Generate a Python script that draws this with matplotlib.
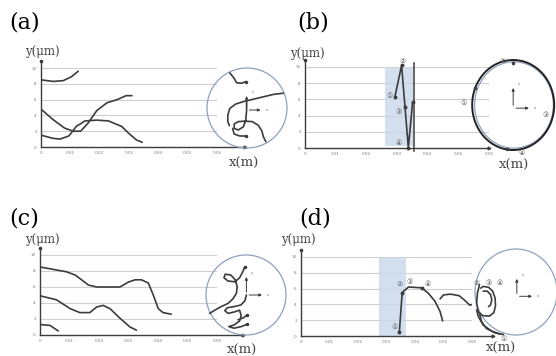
import matplotlib
matplotlib.use("Agg")
import matplotlib.pyplot as plt
from matplotlib.patches import Ellipse

W, H = 556, 356

# ---- data ----
x_ticks = [0, 0.01, 0.02, 0.03, 0.04, 0.05, 0.06]
x_tick_labels = ["0", "0.01", "0.02", "0.03", "0.04", "0.05", "0.06"]
y_ticks = [0, 2, 4, 6, 8, 10]

# (a)
a1_x = [0, 0.0042, 0.0076, 0.0104, 0.0127]
a1_y = [8.5, 8.3, 8.4, 8.9, 9.6]
a2_x = [0, 0.004, 0.008, 0.011, 0.0135, 0.016, 0.019, 0.0225, 0.026, 0.029, 0.031]
a2_y = [4.8, 3.5, 2.4, 2.0, 2.0, 3.0, 4.6, 5.6, 6.0, 6.5, 6.5]
a3_x = [0, 0.004, 0.0065, 0.0095, 0.012, 0.015, 0.019, 0.023, 0.0275, 0.030, 0.0325, 0.0345]
a3_y = [1.5, 1.1, 1.0, 1.4, 2.6, 3.3, 3.4, 3.3, 2.6, 1.7, 0.9, 0.6]

# (b)
b_x = [0.0293, 0.0315, 0.0326, 0.0337, 0.0351]
b_y = [6.3, 10.2, 5.1, 0.05, 5.7]
b_shade = (0.026, 0.0352, 0.3, 10.1)
b_vline = 0.0357
b_labels = ["①", "②", "③", "④"]
b_label_x = [0.0277, 0.0317, 0.0304, 0.0304]
b_label_y = [6.4, 10.7, 4.5, 0.6]

# (c)
c1_x = [0, 0.009, 0.0119, 0.0141, 0.0164, 0.0192, 0.0237, 0.0271, 0.0299, 0.0322,
        0.0344, 0.0367, 0.0384, 0.0401, 0.0417, 0.0445]
c1_y = [8.5, 7.9, 7.5, 6.9, 6.25, 6.0, 6.0, 6.0, 6.6, 6.9, 6.9, 6.5, 5.0, 3.3, 2.8, 2.6]
c2_x = [0, 0.0056, 0.0102, 0.0135, 0.0169, 0.0192, 0.0214, 0.0237, 0.0271, 0.0305, 0.0327]
c2_y = [4.9, 4.4, 3.3, 2.8, 2.8, 3.5, 3.7, 3.3, 2.1, 1.0, 0.6]
c3_x = [0, 0.0034, 0.0062]
c3_y = [1.3, 1.2, 0.5]

# (d)
d1_x = [0.0345, 0.0355, 0.0377, 0.0424, 0.0447, 0.047, 0.0488, 0.0497]
d1_y = [0.46, 5.5, 6.2, 6.1, 5.4, 4.4, 3.1, 1.9]
d2_x = [0.0488, 0.0500, 0.0525, 0.0555, 0.0575, 0.0592, 0.0600]
d2_y = [4.7, 5.2, 5.3, 5.1, 4.5, 3.9, 4.0]
d_shade = (0.0272, 0.0370, 0, 10)
d_labels = ["①", "②", "③", "④"]
d_label_x = [0.0330, 0.0345, 0.0382, 0.0443]
d_label_y = [1.1, 6.6, 6.8, 6.6]

# circle insets, local coords (-1..1)
ca_strokes = [
    ([-0.43, -0.32, -0.26, -0.13, -0.03], [0.88, 0.74, 0.63, 0.62, 0.66]),
    ([0.91, 0.66, 0.41, 0.16, -0.09, -0.28, -0.43, -0.48, -0.48, -0.44],
     [0.37, 0.34, 0.28, 0.22, 0.16, 0.10, -0.01, -0.18, -0.34, -0.44]),
    ([-0.01, -0.01, -0.03, -0.09, -0.22, -0.32, -0.32, -0.22, -0.05, 0.13, 0.28, 0.37, 0.41, 0.47],
     [0.20, -0.05, -0.30, -0.47, -0.55, -0.51, -0.40, -0.34, -0.33, -0.34, -0.43, -0.57, -0.72, -0.84]),
    ([-0.36, -0.32, -0.18, -0.03], [-0.51, -0.65, -0.70, -0.70]),
]
ca_dots = ([-0.03, -0.03], [0.66, -0.70])

cc_strokes = [
    ([-0.03, -0.08, -0.16, -0.28, -0.45, -0.55, -0.52, -0.38, -0.27, -0.22, -0.24, -0.33,
      -0.45, -0.62, -0.78, -0.91],
     [0.71, 0.58, 0.43, 0.33, 0.35, 0.43, 0.52, 0.50, 0.38, 0.21, 0.04, -0.10,
      -0.21, -0.29, -0.38, -0.46]),
    ([0.01, -0.03, -0.13, -0.30, -0.47, -0.53, -0.45, -0.28, -0.16, -0.12, -0.16, -0.30,
      -0.43, -0.30, -0.12, 0.03],
     [0.0, -0.15, -0.25, -0.29, -0.32, -0.39, -0.46, -0.42, -0.38, -0.52, -0.65, -0.75,
      -0.79, -0.83, -0.79, -0.73]),
    ([0.02, -0.06, -0.20], [-0.50, -0.57, -0.62]),
]
cc_dots = ([-0.03, 0.03, 0.02], [0.71, -0.73, -0.50])

cd_strokes = [
    ([-0.89, -0.94, -0.96, -0.92, -0.81, -0.65, -0.54, -0.50, -0.51, -0.57, -0.67, -0.80, -0.86],
     [0.17, -0.02, -0.26, -0.46, -0.55, -0.56, -0.48, -0.32, -0.14, 0.02, 0.11, 0.13, 0.09]),
    ([-0.80, -0.70, -0.62, -0.59, -0.62, -0.67], [0.02, 0.02, -0.06, -0.18, -0.30, -0.34]),
    ([-0.89, -0.84, -0.72, -0.51, -0.31], [-0.50, -0.69, -0.85, -0.95, -0.99]),
    ([-0.96, -0.92, -0.80, -0.59, -0.39], [-0.42, -0.57, -0.77, -0.91, -0.98]),
]
cd_labels = ["②", "③", "④", "①"]
cd_label_x = [-0.96, -0.67, -0.41, -0.29]
cd_label_y = [0.21, 0.21, 0.21, -1.10]

cb_labels = ["②", "①", "③", "④"]
cb_label_x = [-0.28, -1.24, 0.76, 0.19]
cb_label_y = [0.98, 0.04, -0.22, -1.07]
cb_dots = ([-0.02, -0.18, -0.95], [0.94, -0.98, 0.37])

LINE = "#3c3c3c"
GRID = "#cfcfcf"
TXT = "#7a7a7a"
CIRC = "#8fa0bd"
SHADE = "#c9d7ea"
SYM = ["DejaVu Sans", "Noto Sans CJK JP"]
SERIF = "DejaVu Serif"

fig = plt.figure(figsize=(W / 100, H / 100), dpi=100)


def px_axes(left, top, right, bottom):
    return fig.add_axes([left / W, 1 - bottom / H, (right - left) / W, (bottom - top) / H])


def main_axes(left, top, right, bottom, xend):
    ax = px_axes(left, top, right, bottom)
    ax.set_xlim(0, 0.06)
    ax.set_ylim(0, 10)
    ax.patch.set_alpha(0)
    for s in ["top", "right", "left", "bottom"]:
        ax.spines[s].set_visible(False)
    for yv in y_ticks[1:]:
        ax.axhline(yv, color=GRID, lw=0.8, zorder=0)
    ax.axvline(0.06, color=GRID, lw=0.8, zorder=0)
    ax.plot([0, 0], [0, 10.9], color=LINE, lw=1.0, clip_on=False)
    ax.plot([0], [10.9], marker="o", ms=1.6, color=LINE, clip_on=False)
    ax.plot([0, xend], [0, 0], color=LINE, lw=1.0, clip_on=False)
    ax.plot([xend], [0], marker=">", ms=2, color=LINE, clip_on=False)
    ax.set_xticks(x_ticks)
    ax.set_xticklabels(x_tick_labels)
    ax.set_yticks(y_ticks)
    ax.tick_params(length=0, labelsize=3, labelcolor=TXT, pad=3)
    return ax


def circle_axes(cx, cy, rx, ry):
    ax = px_axes(cx - rx, cy - ry, cx + rx, cy + ry)
    ax.set_xlim(-1, 1)
    ax.set_ylim(-1, 1)
    ax.axis("off")
    return ax


def frame_arrows(ax, ox, oy, ytop, xright):
    ax.annotate("", xy=(ox, ytop), xytext=(ox, oy),
                arrowprops=dict(arrowstyle="-|>", color=LINE, lw=0.7, mutation_scale=4))
    ax.annotate("", xy=(xright, oy), xytext=(ox, oy),
                arrowprops=dict(arrowstyle="-|>", color=LINE, lw=0.7, mutation_scale=4))
    ax.text(ox + 0.1, ytop, "y", fontsize=3, color=TXT, family=SERIF)
    ax.text(xright + 0.06, oy, "x", fontsize=3, color=TXT, family=SERIF, va="center")


def titles(px, py, tag, ylx, yly, xlx, xly):
    fig.text(px / W, 1 - py / H, tag, fontsize=16, family=SERIF, va="center")
    fig.text(ylx / W, 1 - yly / H, "y(μm)", fontsize=8.5, family=SERIF, va="center",
             color="#444444")
    fig.text(xlx / W, 1 - xly / H, "x(m)", fontsize=9.5, family=SERIF, va="center",
             color="#444444")


def curve(ax, xs, ys, **kw):
    ax.plot(xs, ys, color=LINE, lw=1.2, solid_joinstyle="round", solid_capstyle="round", **kw)


# ---------- (a) ----------
ax = main_axes(41, 68, 217, 147, 0.0695)
for xs, ys in [(a1_x, a1_y), (a2_x, a2_y), (a3_x, a3_y)]:
    curve(ax, xs, ys)
titles(9, 22, "(a)", 25, 51, 229, 163)

cax = circle_axes(247, 108, 40, 40)
cax.add_patch(Ellipse((0, 0), 2, 2, fill=False, ec=CIRC, lw=0.9, clip_on=False))
for xs, ys in ca_strokes:
    curve(cax, xs, ys)
cax.plot(*ca_dots, "o", color=LINE, ms=1.5)
frame_arrows(cax, -0.01, -0.05, 0.37, 0.41)

# ---------- (b) ----------
ax = main_axes(305, 67, 489, 148, 0.06)
x0, x1, y0, y1 = b_shade
ax.fill_between([x0, x1], [y0, y0], [y1, y1], color=SHADE, alpha=0.8, lw=0, zorder=0.5)
ax.plot([b_vline, b_vline], [-0.4, 10.5], color=LINE, lw=1.1, clip_on=False)
curve(ax, b_x, b_y, marker="o", ms=1.8, clip_on=False)
for lab, lx, ly in zip(b_labels, b_label_x, b_label_y):
    ax.text(lx, ly, lab, fontsize=5, family=SYM, color="#555555", ha="center", va="center")
titles(297, 22, "(b)", 290, 53, 499, 165)

cax = circle_axes(514, 105, 41, 45)
cax.add_patch(Ellipse((0, 0), 1.92, 1.92, fill=False, ec=CIRC, lw=0.9, clip_on=False))
cax.add_patch(Ellipse((-0.02, 0), 2.0, 2.0, fill=False, ec="#222222", lw=1.4, clip_on=False))
cax.plot(*cb_dots, "o", color=LINE, ms=1.6)
for lab, lx, ly in zip(cb_labels, cb_label_x, cb_label_y):
    cax.text(lx, ly, lab, fontsize=5, family=SYM, color="#555555", ha="center", va="center")
frame_arrows(cax, -0.02, -0.07, 0.44, 0.43)

# ---------- (c) ----------
ax = main_axes(40, 255, 217, 335, 0.0687)
for xs, ys in [(c1_x, c1_y), (c2_x, c2_y), (c3_x, c3_y)]:
    curve(ax, xs, ys)
titles(9, 218, "(c)", 25, 240, 227, 350)

cax = circle_axes(246, 295, 40, 40)
cax.add_patch(Ellipse((0, 0), 2, 2, fill=False, ec=CIRC, lw=0.9, clip_on=False))
for xs, ys in cc_strokes:
    curve(cax, xs, ys)
cax.plot(*cc_dots, "o", color=LINE, ms=1.5)
frame_arrows(cax, 0.01, 0.0, 0.52, 0.47)

# ---------- (d) ----------
ax = main_axes(301, 257, 472, 336, 0.0674)
x0, x1, y0, y1 = d_shade
ax.fill_between([x0, x1], [y0, y0], [y1, y1], color=SHADE, alpha=0.8, lw=0, zorder=0.5)
curve(ax, d1_x, d1_y)
ax.plot([d1_x[0], d1_x[1], d1_x[3]], [d1_y[0], d1_y[1], d1_y[3]], "o", color=LINE, ms=1.8)
curve(ax, d2_x, d2_y)
for lab, lx, ly in zip(d_labels, d_label_x, d_label_y):
    ax.text(lx, ly, lab, fontsize=5, family=SYM, color="#555555", ha="center", va="center")
titles(299, 218, "(d)", 281, 240, 486, 348)

cax = circle_axes(516, 292, 41, 43)
cax.add_patch(Ellipse((0, 0), 2, 2, fill=False, ec=CIRC, lw=0.9, clip_on=False))
for xs, ys in cd_strokes:
    curve(cax, xs, ys, clip_on=False)
for lab, lx, ly in zip(cd_labels, cd_label_x, cd_label_y):
    cax.text(lx, ly, lab, fontsize=5, family=SYM, color="#555555", ha="center", va="center",
             clip_on=False)
frame_arrows(cax, 0.02, -0.10, 0.37, 0.46)

fig.savefig("out.png", dpi=100)
